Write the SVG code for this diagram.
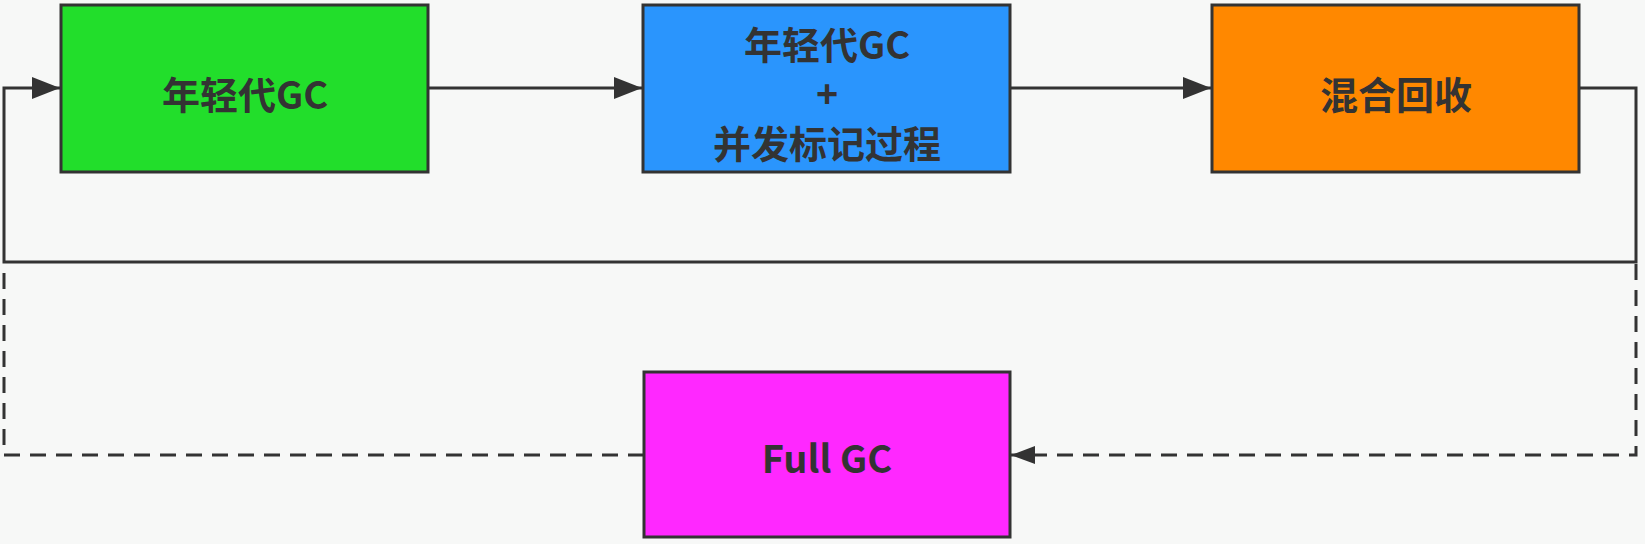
<svg xmlns="http://www.w3.org/2000/svg" width="1645" height="544" viewBox="0 0 1645 544">
<style>
.box{stroke:#333;stroke-width:3}
.lbl{font-family:"Noto Sans CJK SC","Noto Sans",sans-serif;font-weight:bold;font-size:38px;fill:#333;text-anchor:middle}
.plus{font-family:"Liberation Sans",Arial,sans-serif;font-weight:bold;font-size:38px;fill:#333;text-anchor:middle}
.conn{fill:none;stroke:#333;stroke-width:3}
.dash{stroke-dasharray:16 10}
</style>
<defs>
<marker id="arr" markerUnits="userSpaceOnUse" markerWidth="30" markerHeight="24" refX="28" refY="11" orient="auto">
<path d="M0,0 L28,11 L0,22 Z" fill="#333"/>
</marker>
<marker id="arrs" markerUnits="userSpaceOnUse" markerWidth="26" markerHeight="20" refX="24" refY="9" orient="auto">
<path d="M0,0 L24,9 L0,18 Z" fill="#333"/>
</marker>
</defs>
<rect x="0" y="0" width="1645" height="544" fill="#f7f8f7"/>
<g id="connectors">
<path class="conn" d="M428,88 H642" marker-end="url(#arr)"/>
<path class="conn" d="M1010,88 H1211" marker-end="url(#arr)"/>
<path class="conn" d="M1579,88 H1636 V262 H4 V88 H60" marker-end="url(#arr)"/>
<path class="conn dash" d="M1636,264 V455 H1011" marker-end="url(#arrs)"/>
<path class="conn dash" d="M644,455 H4 V264"/>
</g>
<g id="young-gc">
<rect class="box" x="61" y="5" width="367" height="167" fill="#22de2b"/>
<text class="lbl" x="245" y="109">年轻代GC</text>
</g>
<g id="young-gc-concurrent-mark">
<rect class="box" x="643" y="5" width="367" height="167" fill="#2a95fd"/>
<text class="lbl" x="827" y="59">年轻代GC</text>
<text class="plus" x="827" y="107">+</text>
<text class="lbl" x="827" y="158">并发标记过程</text>
</g>
<g id="mixed-gc">
<rect class="box" x="1212" y="5" width="367" height="167" fill="#ff8800"/>
<text class="lbl" x="1396" y="109">混合回收</text>
</g>
<g id="full-gc">
<rect class="box" x="644" y="372" width="366" height="165" fill="#ff28ff"/>
<text class="lbl" x="827" y="473">Full GC</text>
</g>
</svg>
